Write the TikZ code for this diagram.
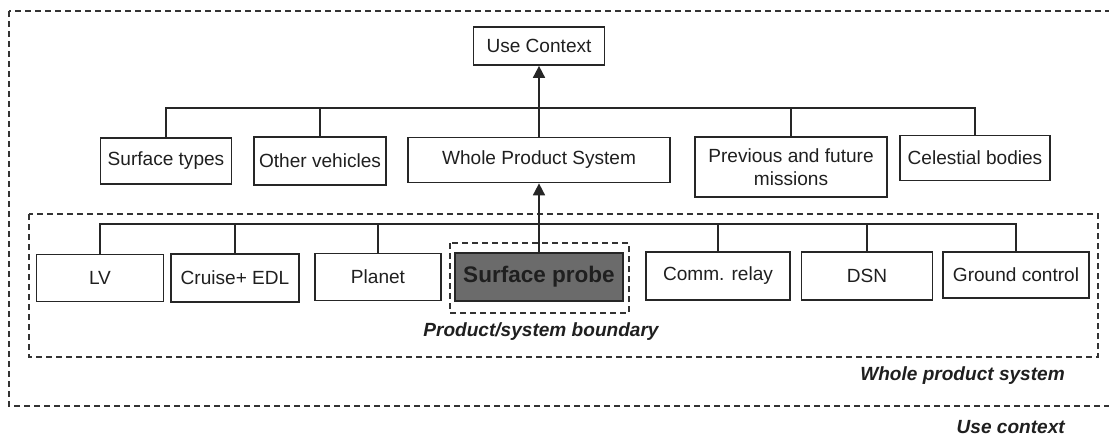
\documentclass[tikz,border=0pt]{standalone}
\usepackage{fontspec}
\setmainfont{Liberation Sans}
\usetikzlibrary{arrows.meta}
\begin{document}
\begin{tikzpicture}[x=0.75pt,y=-0.75pt,
	every node/.style={font=\fontsize{14.3}{17.3}\selectfont,text=black!88},
	box/.style n args={2}{draw=black!85,line width=1.3pt,inner sep=0pt,align=center,
		minimum width=#1*0.75pt,minimum height=#2*0.75pt},
	bound/.style={draw=black!80,line width=1pt,dash pattern=on 4.5pt off 3pt},
	lbl/.style={inner sep=0pt,font=\fontsize{14.3}{17.3}\selectfont\bfseries\itshape},
	link/.style={draw=black!85,line width=1.3pt},
	up/.style={link,-{Triangle[width=9pt,length=9pt]}}]
\useasboundingbox (0,0) rectangle (1109,436);
\draw[bound] (9,11) rectangle (1120,406);
\draw[bound] (29,214) rectangle (1098,357);
\draw[bound] (450,243) rectangle (629,313);
\node[box={131}{38}] (usectx) at (539,46) {Use Context};
\node[box={131}{46}] (stype) at (166,161) {Surface types};
\node[box={132}{48}] (ovhc) at (320,161) {Other vehicles};
\node[box={262}{45}] (wps) at (539,160) {Whole Product System};
\node[box={192}{60}] (prevmis) at (791,167) {Previous and future\\missions};
\node[box={150}{45}] (cbody) at (975,158) {Celestial bodies};
\node[box={127}{47}] (lv) at (100,278) {LV};
\node[box={128}{48}] (cruise) at (235,278) {Cruise+ EDL};
\node[box={126}{47}] (planet) at (378,277) {Planet};
\node[box={168}{48},fill=black!58,font=\fontsize{16.9}{20}\selectfont\bfseries] (sprobe) at (539,277) {Surface probe};
\node[box={144}{48}] (comm) at (718,276) {Comm. relay};
\node[box={131}{48}] (dsn) at (867,276) {DSN};
\node[box={146}{46}] (gctrl) at (1016,275) {Ground control};
\coordinate (topbus) at (539,108);
\coordinate (lowbus) at (539,224);
\draw[link] (stype.north) |- (topbus) -| (cbody.north);
\foreach \n in {ovhc,prevmis} \draw[link] (\n.north) -- (\n.north |- topbus);
\draw[link] (lv.north) |- (lowbus) -| (gctrl.north);
\foreach \n in {cruise,planet,comm,dsn} \draw[link] (\n.north) -- (\n.north |- lowbus);
\draw[up] (wps.north) -- (usectx.south);
\draw[up] (sprobe.north) -- (wps.south);
\node[lbl] (bndlbl) at (541,332) {Product/system boundary};
\node[lbl,anchor=east] (wpslbl) at (1065,376) {Whole product system};
\node[lbl,anchor=east] (uselbl) at (1065,427) {Use context};
\end{tikzpicture}
\end{document}
